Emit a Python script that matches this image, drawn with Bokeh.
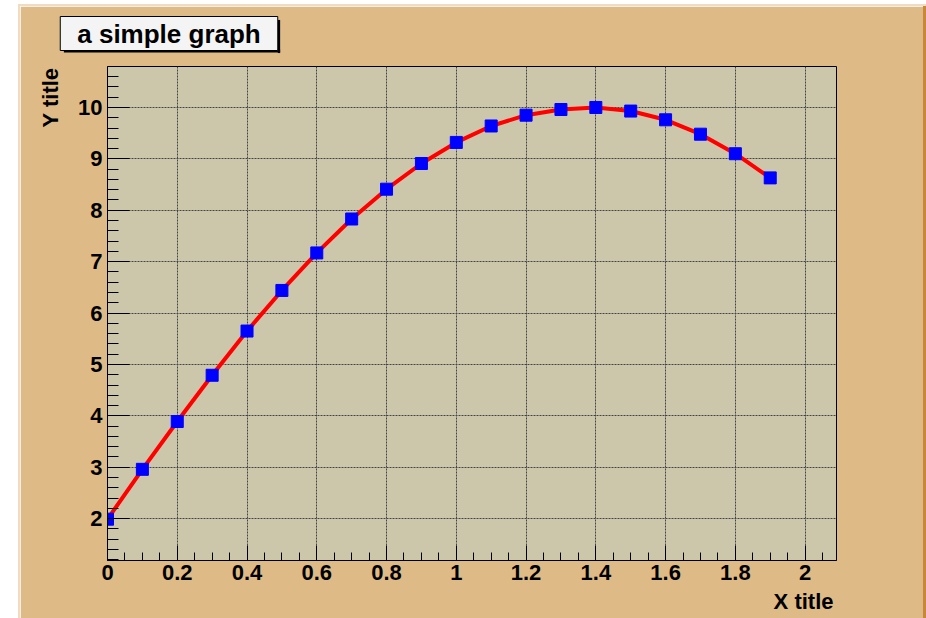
import numpy as np
from bokeh.plotting import figure
from bokeh.models import FixedTicker, Label, Range1d, Spacer
from bokeh.layouts import column, row
from bokeh.embed import file_html
from bokeh.resources import INLINE

# ---- data ----
x_values = [0.0, 0.1, 0.2, 0.3, 0.4, 0.5, 0.6, 0.7, 0.8, 0.9,
            1.0, 1.1, 1.2, 1.3, 1.4, 1.5, 1.6, 1.7, 1.8, 1.9]
y_values = [1.99, 2.96, 3.89, 4.79, 5.65, 6.44, 7.17, 7.83, 8.41, 8.91,
            9.32, 9.64, 9.85, 9.96, 10.00, 9.93, 9.76, 9.48, 9.10, 8.63]
x_ticks = [0, 0.2, 0.4, 0.6, 0.8, 1, 1.2, 1.4, 1.6, 1.8, 2]
x_tick_labels = ["0", "0.2", "0.4", "0.6", "0.8", "1", "1.2", "1.4", "1.6", "1.8", "2"]
y_ticks = [2, 3, 4, 5, 6, 7, 8, 9, 10]
y_tick_labels = ["2", "3", "4", "5", "6", "7", "8", "9", "10"]
title_text = "a simple graph"
x_title = "X title"
y_title = "Y title"

# ---- geometry (page pixels) ----
X0, X1 = 0.0, 2.09
Y0, Y1 = 1.186, 10.797
PL, PT = 18, 4                 # pad (tan area) top-left on page
BEV, DARK = 2, 3               # light bevel width, dark right edge width
FIG_L, FIG_T = PL + BEV, PT + BEV
FIG_R, FIG_B = 926 - DARK, 618
W, H = FIG_R - FIG_L, FIG_B - FIG_T
FL, FR, FT, FB = 107, 836, 66, 560   # frame edges on page

def dx(px):
    return X0 + (px - FL) / (FR - FL) * (X1 - X0)

def dy(py):
    return Y1 - (py - FT) / (FB - FT) * (Y1 - Y0)

PAD = "#deba87"
FRAME = "#ccc7ab"
LIGHT = "#efdcc3"
DARKC = "#c8873a"
FONT = "Liberation Sans"

p = figure(width=W, height=H, x_range=Range1d(X0, X1), y_range=Range1d(Y0, Y1),
           output_backend="svg", toolbar_location=None,
           min_border_left=FL - FIG_L, min_border_right=FIG_R - FR,
           min_border_top=FT - FIG_T, min_border_bottom=FIG_B - FB)
p.title.visible = False
p.border_fill_color = PAD
p.background_fill_color = FRAME
p.outline_line_color = "black"
p.outline_line_width = 1

x_minor = [round(v, 2) for v in np.arange(0, 2.0901, 0.05)]
y_minor = [round(v, 2) for v in np.arange(1.2, 10.8, 0.2)]
p.xaxis.ticker = FixedTicker(ticks=x_ticks, minor_ticks=x_minor)
p.yaxis.ticker = FixedTicker(ticks=y_ticks, minor_ticks=y_minor)
p.xaxis.major_label_overrides = {t: l for t, l in zip(x_ticks, x_tick_labels)}
p.yaxis.major_label_overrides = {t: l for t, l in zip(y_ticks, y_tick_labels)}

for ax in (p.xaxis, p.yaxis):
    ax.axis_line_color = "black"
    ax.major_tick_line_color = "black"
    ax.minor_tick_line_color = "black"
    ax.major_tick_out = 0
    ax.minor_tick_out = 0
    ax.major_label_text_font = FONT
    ax.major_label_text_font_style = "bold"
    ax.major_label_text_font_size = "22px"
    ax.major_label_text_color = "black"
p.xaxis.major_tick_in = 15
p.xaxis.minor_tick_in = 8
p.yaxis.major_tick_in = 22
p.yaxis.minor_tick_in = 11
p.xaxis.major_label_standoff = 4
p.yaxis.major_label_standoff = 5

p.xgrid.ticker = FixedTicker(ticks=x_ticks)
p.ygrid.ticker = FixedTicker(ticks=y_ticks)
for g in (p.xgrid, p.ygrid):
    g.grid_line_color = "#444444"
    g.grid_line_dash = "2 1"
    g.grid_line_width = 1

p.line(x_values, y_values, line_color="#ff0000", line_width=4)
p.scatter(x_values, y_values, marker="square", size=12,
          fill_color="#0000ff", line_color="#0000ff")

# title box: white box with black border, plus 3px black drop shadow strips
tbox = Label(x=dx(168.5), y=dy(33), text=title_text,
             text_align="center", text_baseline="middle", text_font=FONT,
             text_font_style="bold", text_font_size="26px", text_color="black",
             background_fill_color="#f4f4f4", border_line_color="black",
             border_line_width=1, padding=(17, 2), level="overlay")
p.add_layout(tbox, "above")
shadow_bottom = Label(x=dx(171.5), y=dy(50.5), text=" ", text_font_size="1px",
                      text_align="center", text_baseline="middle",
                      background_fill_color="black", border_line_alpha=0,
                      padding=(108, 1), level="guide")
p.add_layout(shadow_bottom, "above")
shadow_right = Label(x=dx(278.5), y=dy(36), text=" ", text_font_size="1px",
                     text_align="center", text_baseline="middle",
                     background_fill_color="black", border_line_alpha=0,
                     padding=(1, 16), level="guide")
p.add_layout(shadow_right, "right")

# axis titles
p.add_layout(Label(x=dx(833), y=dy(601), text=x_title, text_align="right",
                   text_baseline="alphabetic", text_font=FONT, text_font_style="bold",
                   text_font_size="22px", text_color="black"), "below")
p.add_layout(Label(x=dx(50), y=dy(67), text=y_title, text_align="right",
                   text_baseline="alphabetic", angle=np.pi / 2, text_font=FONT,
                   text_font_style="bold", text_font_size="22px", text_color="black"), "left")

top_bevel = Spacer(width=926 - PL, height=BEV, styles={"background-color": LIGHT})
left_bevel = Spacer(width=BEV, height=H, styles={"background-color": LIGHT})
right_edge = Spacer(width=DARK, height=H, styles={"background-color": DARKC})
pad = column(top_bevel, row(left_bevel, p, right_edge))
layout = column(Spacer(height=PT, width=926), row(Spacer(width=PL, height=618 - PT), pad))
open("out.html", "w").write(file_html(layout, INLINE))
